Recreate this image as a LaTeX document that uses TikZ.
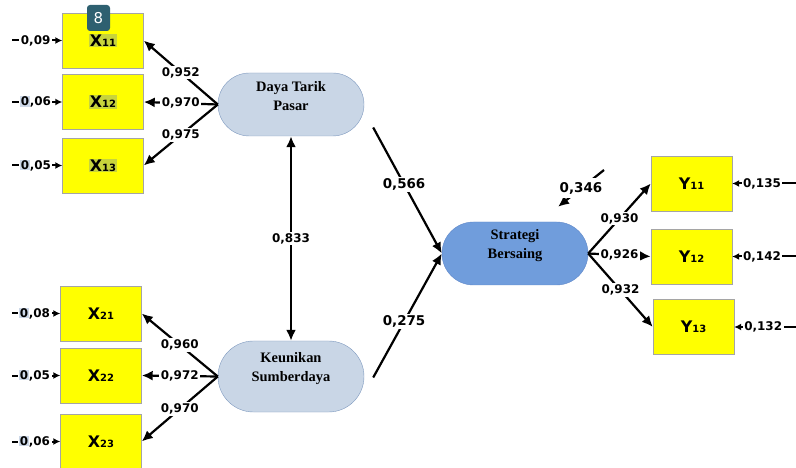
\documentclass[tikz,border=0pt]{standalone}
\usepackage{fontspec}
\setmainfont{Liberation Serif}
\setsansfont{DejaVu Sans}
\usetikzlibrary{arrows.meta,shapes.misc}
\definecolor{boxyellow}{RGB}{255,255,0}
\definecolor{boxedge}{RGB}{165,165,165}
\definecolor{latfill}{RGB}{201,214,230}
\definecolor{latedge}{RGB}{125,152,190}
\definecolor{sbfill}{RGB}{112,157,220}
\definecolor{sbedge}{RGB}{95,135,200}
\definecolor{badgefill}{RGB}{46,96,112}
\definecolor{hlx}{RGB}{200,212,60}
\definecolor{hlzero}{RGB}{205,216,232}
\newcommand{\ind}[2]{#1{\fontsize{10}{10}\selectfont #2}}
\newcommand{\hx}[1]{{\fboxsep=0.8bp\colorbox{hlx}{#1}}}
\newcommand{\hz}[1]{{\fboxsep=0.6bp\colorbox{hlzero}{#1}}}
\tikzset{
  indbox/.style={rectangle, draw=boxedge, fill=boxyellow, minimum width=81bp, minimum height=55bp, inner sep=0pt, font=\sffamily\bfseries\fontsize{16}{16}\selectfont},
  latent/.style={rounded rectangle, draw=latedge, fill=latfill, minimum width=146bp, minimum height=63bp, inner sep=0pt},
  lattext/.style={align=center, font=\rmfamily\bfseries\fontsize{14.5}{19}\selectfont},
  coef/.style={fill=white, inner sep=1.5bp, font=\sffamily\bfseries\fontsize{12}{12}\selectfont},
  bigcoef/.style={coef, font=\sffamily\bfseries\fontsize{13.5}{13.5}\selectfont},
  load/.style={line width=2.2bp, -{Latex[length=11bp,width=10bp]}},
  corr/.style={line width=2.2bp, {Latex[length=11bp,width=10bp]}-{Latex[length=11bp,width=10bp]}},
  err/.style={line width=2bp, -{Latex[length=7bp,width=7bp]}},
}
\begin{document}
\begin{tikzpicture}[x=1bp,y=-1bp]
        \useasboundingbox (0,0) rectangle (796,468);
        % indikator X
        \node[indbox] (x11) at (103,40.5) {\hx{\ind{X}{11}}};
        \node[indbox] (x12) at (103,102) {\hx{\ind{X}{12}}};
        \node[indbox] (x13) at (103,165.5) {\hx{\ind{X}{13}}};
        \node[indbox] (x21) at (101,313.5) {\ind{X}{21}};
        \node[indbox] (x22) at (101,375.5) {\ind{X}{22}};
        \node[indbox] (x23) at (101,441.5) {\ind{X}{23}};
        % indikator Y
        \node[indbox] (y11) at (691.5,183.5) {\ind{Y}{11}};
        \node[indbox] (y12) at (691.5,256.5) {\ind{Y}{12}};
        \node[indbox] (y13) at (693.5,327) {\ind{Y}{13}};
        \node[fill=badgefill, rounded corners=3bp, minimum width=23bp, minimum height=26bp, inner sep=0pt, text=white, font=\sffamily\fontsize{15}{15}\selectfont] (badge) at (98.5,18) {8};
        % variabel laten
        \node[latent] (dtp) at (291,104.5) {};
        \node[lattext, yshift=8bp] (dtpt) at (dtp) {Daya Tarik\\Pasar};
        \node[latent, minimum height=71bp] (ks) at (291,376.5) {};
        \node[lattext, yshift=8bp] (kst) at (ks) {Keunikan\\Sumberdaya};
        \node[latent, fill=sbfill, draw=sbedge] (sb) at (515,253.5) {};
        \node[lattext, yshift=8bp] (sbt) at (sb) {Strategi\\Bersaing};
        % ujung bebas error
        \coordinate (e11) at (12,40.5);
        \coordinate (e12) at (12,102);
        \coordinate (e13) at (12,165.5);
        \coordinate (e21) at (12,313.5);
        \coordinate (e22) at (12,375.5);
        \coordinate (e23) at (12,441.5);
        \coordinate (f11) at (800,183.5);
        \coordinate (f12) at (800,256.5);
        \coordinate (f13) at (800,327);
        \coordinate (ez) at (604,170);
        % loading X
        \draw[load] (dtp.west) -- node[coef] {0,952} (x11.east);
        \draw[load] (dtp.west) -- node[coef] {0,970} (x12.east);
        \draw[load] (dtp.west) -- node[coef] {0,975} (x13.east);
        \draw[load] (ks.west) -- node[coef] {0,960} (x21.east);
        \draw[load] (ks.west) -- node[coef] {0,972} (x22.east);
        \draw[load] (ks.west) -- node[coef] {0,970} (x23.east);
        % loading Y
        \draw[load] (sb.east) -- node[coef] {0,930} (y11.west);
        \draw[load] (sb.east) -- node[coef] {0,926} (y12.west);
        \draw[load] (sb.east) -- node[coef] {0,932} (y13.west);
        % error
        \draw[err] (e11) -- node[coef, pos=0.47] {0,09} (x11.west);
        \draw[err] (e12) -- node[coef, pos=0.47] {\hz{0},06} (x12.west);
        \draw[err] (e13) -- node[coef, pos=0.47] {\hz{0},05} (x13.west);
        \draw[err] (e21) -- node[coef, pos=0.47] {\hz{0},08} (x21.west);
        \draw[err] (e22) -- node[coef, pos=0.47] {\hz{0},05} (x22.west);
        \draw[err] (e23) -- node[coef, pos=0.47] {\hz{0},06} (x23.west);
        \draw[err] (f11) -- node[coef, pos=0.56] {0,135} (y11.east);
        \draw[err] (f12) -- node[coef, pos=0.56] {0,142} (y12.east);
        \draw[err] (f13) -- node[coef, pos=0.56] {0,132} (y13.east);
        % jalur struktural
        \draw[corr] (dtp.south) -- node[coef] {0,833} (ks.north);
        \draw[load] ([xshift=9bp,yshift=-23bp]dtp.east) -- node[bigcoef, pos=0.45] {0,566} (sb.west);
        \draw[load] ([xshift=9bp,yshift=-1bp]ks.east) -- node[bigcoef, pos=0.45] {0,275} (sb.west);
        \draw[load] (ez) -- node[bigcoef, inner sep=4bp] {0,346} ([xshift=43bp,yshift=15bp]sb.north);
    \end{tikzpicture}
\end{document}
